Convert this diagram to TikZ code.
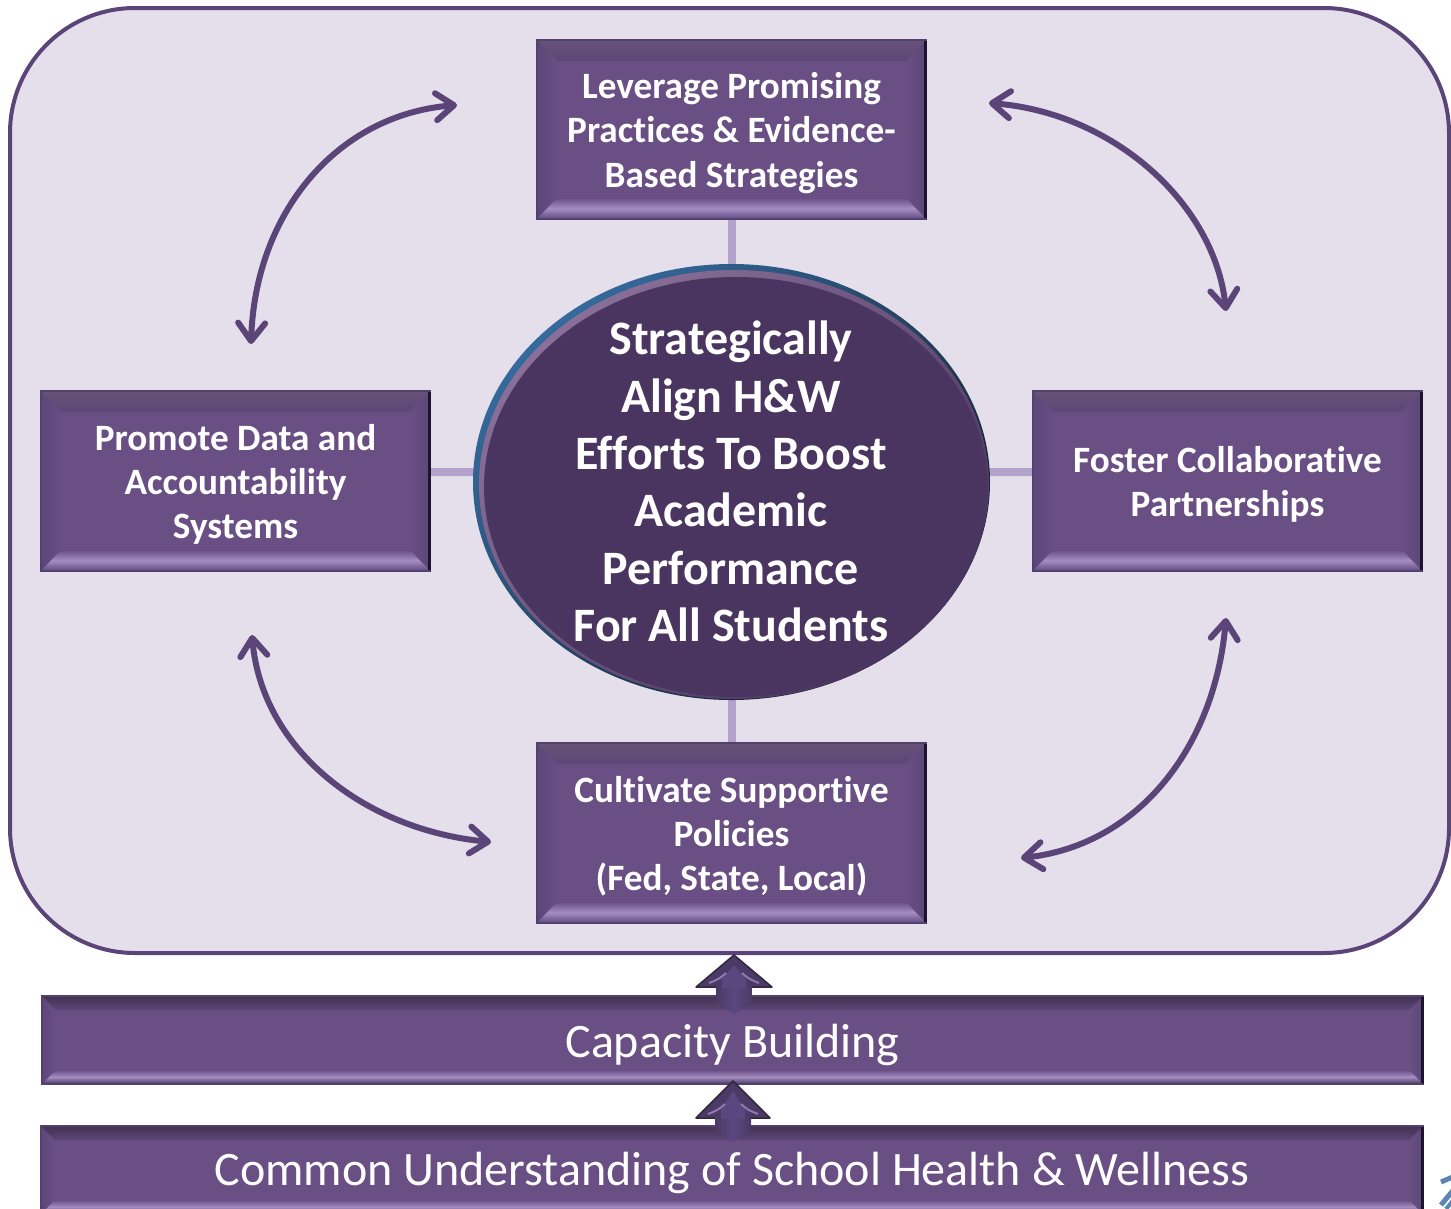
\documentclass[tikz,border=0pt]{standalone}
\usepackage{fontspec}
\setmainfont[Ligatures=NoCommon]{Carlito}
\usetikzlibrary{shapes.geometric,arrows.meta}
\pgfdeclarelayer{framelayer}\pgfdeclarelayer{linklayer}
\pgfsetlayers{framelayer,linklayer,main}
\definecolor{face}{HTML}{6A4F85}
\definecolor{bevtop}{HTML}{675479}
\definecolor{bevtopin}{HTML}{5C4676}
\definecolor{bevside}{HTML}{5C4778}
\definecolor{bevlight}{HTML}{A48DC2}
\definecolor{bevbot}{HTML}{5D4A80}
\definecolor{bevedge}{HTML}{54406F}
\definecolor{edgedark}{HTML}{1D142C}
\definecolor{frameline}{HTML}{5B4578}
\definecolor{framefill}{HTML}{E5DFEC}
\definecolor{linkcol}{HTML}{B3A2CC}
\definecolor{ellfill}{HTML}{4A3560}
\definecolor{rimblue}{HTML}{356A9C}
\definecolor{rimdark}{HTML}{14202C}
\definecolor{rimpurple}{HTML}{8A7099}
\definecolor{logoblue}{HTML}{5B85B5}
\definecolor{headfill}{HTML}{4B3A66}
\definecolor{headin}{HTML}{5B4780}
\definecolor{headline}{HTML}{33263F}
\definecolor{headhi}{HTML}{8D7AAE}
\newcommand{\tstrut}{\rule{0pt}{33pt}}
\tikzset{
  x=1pt,y=-1pt,
  framebox/.style={draw=frameline,line width=4pt,fill=framefill,rounded corners=125pt,inner sep=0pt},
  bevelbox/.style={draw=bevedge,line width=1.5pt,fill=face,text=white,align=center,inner sep=0pt},
  smallbold/.style={font=\fontsize{37.2}{44.3}\selectfont\bfseries},
  barfont/.style={font=\fontsize{48}{52}\selectfont},
  linkline/.style={draw=linkcol,line width=8pt},
  cycle arrow/.style={draw=frameline,line width=6pt,
     {Straight Barb[length=18pt,width=27pt,round]}-{Straight Barb[length=18pt,width=27pt,round]}},
  ellnode/.style={ellipse,inner sep=0pt},
}
% name, x1, y1, x2, y2, bevel x, bevel y, style, text
\newcommand{\bevbox}[9]{%
  \pgfmathsetmacro{\bxa}{#2}\pgfmathsetmacro{\bya}{#3}%
  \pgfmathsetmacro{\bxb}{#4}\pgfmathsetmacro{\byb}{#5}%
  \pgfmathsetmacro{\bxi}{#2+#6}\pgfmathsetmacro{\byi}{#3+#7}%
  \pgfmathsetmacro{\bxj}{#4-#6}\pgfmathsetmacro{\byj}{#5-#7}%
  \pgfmathsetmacro{\bcx}{(#2+#4)/2}\pgfmathsetmacro{\bcy}{(#3+#5)/2}%
  \pgfmathsetmacro{\bw}{#4-#2}\pgfmathsetmacro{\bh}{#5-#3}%
  \node[bevelbox,#8,minimum width=\bw pt,minimum height=\bh pt] (#1) at (\bcx,\bcy) {#9};
  \shade[left color=bevside,right color=face] (\bxa,\bya) -- (\bxi,\byi) -- (\bxi,\byj) -- (\bxa,\byb) -- cycle;
  \shade[left color=face,right color=bevside] (\bxb,\bya) -- (\bxj,\byi) -- (\bxj,\byj) -- (\bxb,\byb) -- cycle;
  \shade[top color=bevtop,bottom color=bevtopin] (\bxa,\bya) -- (\bxb,\bya) -- (\bxj,\byi) -- (\bxi,\byi) -- cycle;
  \shade[top color=face,bottom color=bevbot,middle color=bevlight] (\bxi,\byj) -- (\bxj,\byj) -- (\bxb,\byb) -- (\bxa,\byb) -- cycle;
  \draw[edgedark,line width=3pt] (\bxb-1,\bya+1) -- (\bxb-1,\byb);
  \draw[bevedge,line width=2pt] (\bxa,\bya) -- (\bxb,\bya) (\bxa,\bya) -- (\bxa,\byb) -- (\bxb,\byb);
}
% block arrow: tip x, tip y, head base y, half head, half shaft, shaft end y
\newcommand{\blockarrow}[6]{%
  \shade[left color=headfill,right color=headfill,middle color=headin]
    (#1-#5,#3) -- (#1-#5,#6-12) -- (#1,#6) -- (#1+#5,#6-12) -- (#1+#5,#3) -- cycle;
  \fill[headfill] (#1,#2) -- (#1+#4,#3) -- (#1-#4,#3) -- cycle;
  \draw[headline,line width=1.5pt,line join=round] (#1-#5,#3) -- (#1-#4,#3) -- (#1,#2) -- (#1+#4,#3) -- (#1+#5,#3);
  \fill[headin] (#1,#2+10) -- (#1+12,#3-8) -- (#1+12,#3+1) -- (#1-12,#3+1) -- (#1-12,#3-8) -- cycle;
  \draw[headhi,line width=2pt] (#1-25,#3-4) .. controls (#1-15,#3-8) .. (#1-8,#3-14) (#1+25,#3-4) .. controls (#1+15,#3-8) .. (#1+8,#3-14);
}
\begin{document}
\begin{tikzpicture}
\useasboundingbox (0,0) rectangle (1451,1208);
\clip (0,0) rectangle (1451,1208);
\begin{pgfonlayer}{framelayer}
  \node[framebox,minimum width=1439pt,minimum height=945pt] (frame) at (729.5,480.5) {};
\end{pgfonlayer}

\bevbox{topbox}{537}{40}{926}{219}{20}{21}{smallbold}{\tstrut Leverage Promising\\Practices \& Evidence-\\Based Strategies}
\bevbox{leftbox}{41}{391}{430}{571}{20}{21}{smallbold}{\tstrut Promote Data and\\Accountability\\Systems}
\bevbox{rightbox}{1033}{391}{1422}{571}{20}{21}{smallbold}{\tstrut Foster Collaborative\\Partnerships}
\bevbox{bottombox}{537}{743}{926}{923}{20}{21}{smallbold}{\tstrut Cultivate Supportive\\Policies\\(Fed, State, Local)}
\definecolor{bevtop}{HTML}{423350}
\definecolor{bevbot}{HTML}{453858}
\bevbox{capbar}{42}{996}{1423}{1084}{14}{14}{barfont}{\rule{0pt}{43pt}Capacity Building}
\bevbox{commonbar}{41}{1126}{1423}{1214}{14}{14}{barfont}{\rule{0pt}{39pt}Common Understanding of School Health \& Wellness}

% central ellipse
\node[ellnode,minimum width=517pt,minimum height=436pt,top color=rimblue,bottom color=rimdark,shading angle=45] (rim) at (731.5,482) {};
\shade[top color=rimpurple,bottom color=ellfill,shading angle=45] (734,484.5) ellipse [x radius=255,y radius=214.5];
\node[ellnode,fill=ellfill,minimum width=503.5pt,minimum height=420pt] (ell) at (735.75,487) {};
\node[text=white,align=center,inner sep=0pt,font=\fontsize{48}{57.4}\selectfont\bfseries] (elltext) at (731,481.5) {Strategically\\Align H\&W\\Efforts To Boost\\Academic\\Performance\\For All Students};

\begin{pgfonlayer}{linklayer}
  \draw[linkline] (topbox.south) -- (rim.center);
  \draw[linkline] (bottombox.north) -- (rim.center);
  \draw[linkline] ([yshift=9pt]leftbox.east) -- ([yshift=9pt]rim.center);
  \draw[linkline] ([yshift=9pt]rightbox.west) -- ([yshift=9pt]rim.center);
\end{pgfonlayer}

% curved double arrows
\coordinate (tlA) at (457,105);
\coordinate (tlB) at (251,344);
\coordinate (trA) at (989,103);
\coordinate (trB) at (1226,311);
\coordinate (blA) at (252,635);
\coordinate (blB) at (491,842);
\coordinate (brA) at (1226,618);
\coordinate (brB) at (1021,858);
\draw[cycle arrow] (tlA) .. controls (335,115) and (255,215) .. (tlB);
\draw[cycle arrow] (trA) .. controls (1115,113) and (1215,205) .. (trB);
\draw[cycle arrow] (blA) .. controls (262,750) and (365,830) .. (blB);
\draw[cycle arrow] (brA) .. controls (1215,745) and (1140,845) .. (brB);

% block arrows
\blockarrow{734}{955}{987}{38}{18}{1014}
\blockarrow{733}{1081}{1118}{37}{18}{1142}

% logo fragment
\draw[logoblue,line width=5pt] (1441,1182) -- (1455,1176);
\draw[logoblue,line width=5pt] (1441,1205) -- (1455,1188);
\draw[logoblue,line width=4pt] (1446,1209) -- (1455,1198);
\end{tikzpicture}
\end{document}
